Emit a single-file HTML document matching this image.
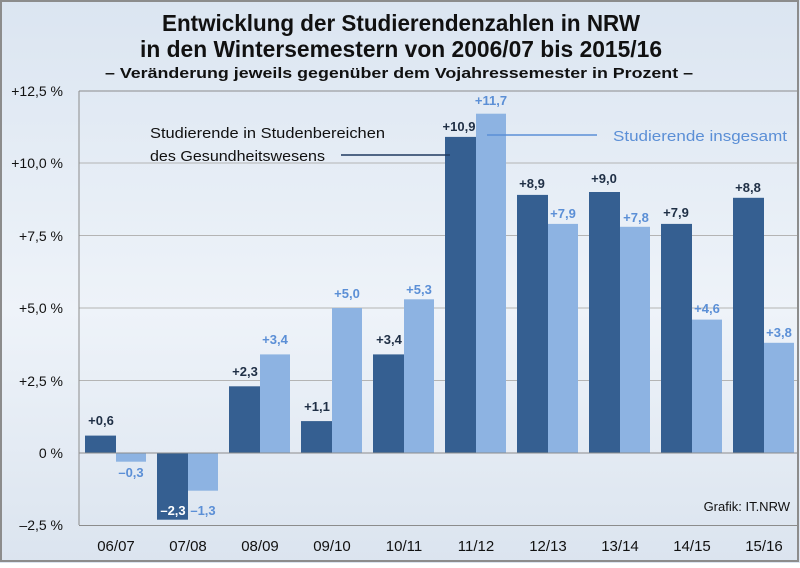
<!DOCTYPE html>
<html><head><meta charset="utf-8"><style>
html,body{margin:0;padding:0;}
body{width:800px;height:563px;overflow:hidden;font-family:"Liberation Sans",sans-serif;}
</style></head><body>
<svg width="800" height="563" xmlns="http://www.w3.org/2000/svg" font-family="Liberation Sans, sans-serif">
<defs>
<linearGradient id="bg" x1="0" y1="0" x2="0" y2="1">
<stop offset="0" stop-color="#dbe5f1"/><stop offset="0.55" stop-color="#eef3f9"/><stop offset="1" stop-color="#dbe4ef"/>
</linearGradient>
</defs>
<rect x="0" y="0" width="800" height="563" fill="url(#bg)"/>
<rect x="1" y="1" width="797" height="560" fill="none" stroke="#8c8c8c" stroke-width="2"/>
<g font-weight="bold" fill="#111">
<text x="162" y="31" font-size="23" textLength="478" lengthAdjust="spacingAndGlyphs">Entwicklung der Studierendenzahlen in NRW</text>
<text x="140" y="57" font-size="23" textLength="522" lengthAdjust="spacingAndGlyphs">in den Wintersemestern von 2006/07 bis 2015/16</text>
<text x="105" y="78" font-size="15" textLength="588" lengthAdjust="spacingAndGlyphs">– Veränderung jeweils gegenüber dem Vojahressemester in Prozent –</text>
</g>
<g stroke="#b4b4b4" stroke-width="1">
<line x1="79" y1="91" x2="797" y2="91" stroke="#8c8c8c"/>
<line x1="79" y1="163" x2="797" y2="163"/>
<line x1="79" y1="235.5" x2="797" y2="235.5"/>
<line x1="79" y1="308" x2="797" y2="308"/>
<line x1="79" y1="380.5" x2="797" y2="380.5"/>
</g>
<line x1="79" y1="91" x2="79" y2="525" stroke="#8c8c8c"/>
<line x1="79" y1="525.5" x2="797" y2="525.5" stroke="#8c8c8c"/>
<g font-size="14" text-anchor="end" fill="#111">
<text x="63" y="96">+12,5 %</text>
<text x="63" y="168">+10,0 %</text>
<text x="63" y="241">+7,5 %</text>
<text x="63" y="313">+5,0 %</text>
<text x="63" y="386">+2,5 %</text>
<text x="63" y="458">0 %</text>
<text x="63" y="530">–2,5 %</text>
</g>
<g fill="#355f91">
<rect x="85" y="435.6" width="31" height="17.4"/>
<rect x="157" y="453" width="31" height="66.7"/>
<rect x="229" y="386.3" width="31" height="66.7"/>
<rect x="301" y="421.1" width="31" height="31.9"/>
<rect x="373" y="354.4" width="31" height="98.6"/>
<rect x="445" y="136.9" width="31" height="316.1"/>
<rect x="517" y="194.9" width="31" height="258.1"/>
<rect x="589" y="192" width="31" height="261"/>
<rect x="661" y="223.9" width="31" height="229.1"/>
<rect x="733" y="197.8" width="31" height="255.2"/>
</g>
<g fill="#8db3e2">
<rect x="116" y="453" width="30" height="8.7"/>
<rect x="188" y="453" width="30" height="37.7"/>
<rect x="260" y="354.4" width="30" height="98.6"/>
<rect x="332" y="308" width="30" height="145"/>
<rect x="404" y="299.3" width="30" height="153.7"/>
<rect x="476" y="113.7" width="30" height="339.3"/>
<rect x="548" y="223.9" width="30" height="229.1"/>
<rect x="620" y="226.8" width="30" height="226.2"/>
<rect x="692" y="319.6" width="30" height="133.4"/>
<rect x="764" y="342.8" width="30" height="110.2"/>
</g>
<line x1="79" y1="453" x2="797" y2="453" stroke="#8c8c8c"/>
<g font-size="13" font-weight="bold" text-anchor="middle" fill="#1f2f45">
<text x="101" y="425">+0,6</text>
<text x="173" y="515" fill="#fff">–2,3</text>
<text x="245" y="376">+2,3</text>
<text x="317" y="411">+1,1</text>
<text x="389" y="344">+3,4</text>
<text x="459" y="131">+10,9</text>
<text x="532" y="188">+8,9</text>
<text x="604" y="183">+9,0</text>
<text x="676" y="217">+7,9</text>
<text x="748" y="192">+8,8</text>
</g>
<g font-size="13" font-weight="bold" text-anchor="middle" fill="#5b8fd6">
<text x="131" y="477">–0,3</text>
<text x="203" y="515">–1,3</text>
<text x="275" y="344">+3,4</text>
<text x="347" y="298">+5,0</text>
<text x="419" y="294">+5,3</text>
<text x="491" y="105">+11,7</text>
<text x="563" y="218">+7,9</text>
<text x="636" y="222">+7,8</text>
<text x="707" y="313">+4,6</text>
<text x="779" y="337">+3,8</text>
</g>
<g font-size="15" fill="#111">
<text x="150" y="138" textLength="235" lengthAdjust="spacingAndGlyphs">Studierende in Studenbereichen</text>
<text x="150" y="161" textLength="175" lengthAdjust="spacingAndGlyphs">des Gesundheitswesens</text>
</g>
<line x1="341" y1="155" x2="450" y2="155" stroke="#1f3a60" stroke-width="1.5"/>
<line x1="487" y1="135" x2="597" y2="135" stroke="#5b8fd6" stroke-width="1.5"/>
<text x="613" y="141" font-size="15" fill="#5b8fd6" textLength="174" lengthAdjust="spacingAndGlyphs">Studierende insgesamt</text>
<text x="790" y="511" font-size="13" text-anchor="end" fill="#111">Grafik: IT.NRW</text>
<g font-size="15" text-anchor="middle" fill="#111">
<text x="116" y="551">06/07</text>
<text x="188" y="551">07/08</text>
<text x="260" y="551">08/09</text>
<text x="332" y="551">09/10</text>
<text x="404" y="551">10/11</text>
<text x="476" y="551">11/12</text>
<text x="548" y="551">12/13</text>
<text x="620" y="551">13/14</text>
<text x="692" y="551">14/15</text>
<text x="764" y="551">15/16</text>
</g>
</svg>
</body></html>
